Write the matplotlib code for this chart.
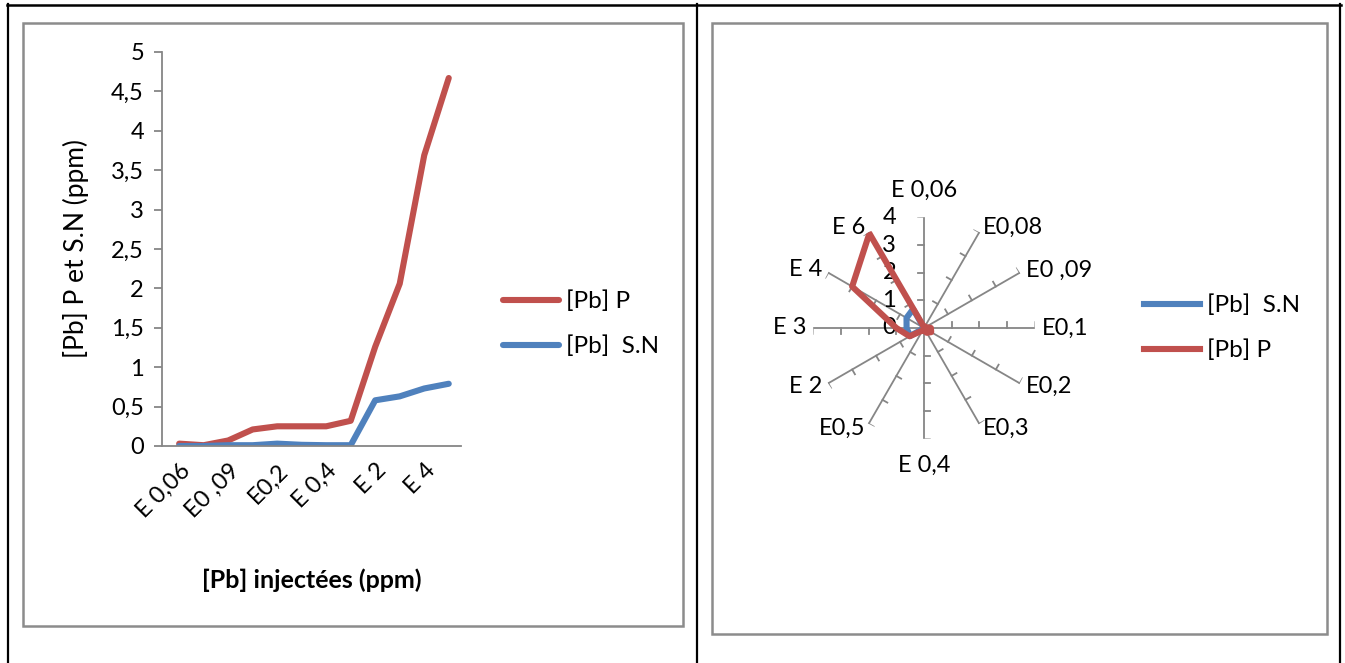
import numpy as np
import matplotlib
matplotlib.use("Agg")
import matplotlib.pyplot as plt
from matplotlib.patches import Rectangle
from matplotlib.lines import Line2D

plt.rcParams['font.family'] = ['Lato', 'DejaVu Sans']

# data
categories = ['E 0,06', 'E0,08', 'E0 ,09', 'E0,1', 'E0,2', 'E0,3',
              'E 0,4', 'E0,5', 'E 2', 'E 3', 'E 4', 'E 6']
pb_p = [0.03, 0.01, 0.07, 0.21, 0.25, 0.25, 0.25, 0.32, 1.26, 2.06, 3.69, 4.67]
pb_sn = [0.0, 0.0, 0.01, 0.01, 0.03, 0.015, 0.01, 0.01, 0.58, 0.63, 0.73, 0.79]
# radar chart series (right panel)
radar_p = [0.03, 0.01, 0.07, 0.25, 0.3, 0.2, 0.1, 0.1, 0.6, 1.0, 3.0, 3.95]
radar_sn = pb_sn
y_ticks = [0, 0.5, 1, 1.5, 2, 2.5, 3, 3.5, 4, 4.5, 5]
r_ticks = [0, 1, 2, 3, 4]

RED = '#C0504D'
BLUE = '#4F81BD'
GREY = '#868686'

W, H = 1345, 663
fig = plt.figure(figsize=(W / 100, H / 100), dpi=100)

def fx(px):
    return px / W

def fy(py):
    return 1 - py / H

# table borders + chart boxes
for x in (8, 697, 1340):
    fig.add_artist(Line2D([fx(x), fx(x)], [fy(4), fy(663)], color='black', lw=1.6))
fig.add_artist(Line2D([fx(7), fx(1341)], [fy(4.5), fy(4.5)], color='black', lw=1.8))
fig.add_artist(Rectangle((fx(23), fy(626)), fx(683) - fx(23), fy(23) - fy(626),
                         fill=False, ec='#8c8c8c', lw=1.8))
fig.add_artist(Rectangle((fx(712), fy(634)), fx(1327) - fx(712), fy(23) - fy(634),
                         fill=False, ec='#8c8c8c', lw=1.8))

FS = 17

# ---- left: line chart
ax = fig.add_axes([fx(162), fy(446), fx(461) - fx(162), fy(52) - fy(446)])
x = np.arange(len(categories))
ax.plot(x, pb_p, color=RED, lw=4.4, solid_capstyle='round', label='[Pb] P')
ax.plot(x, pb_sn, color=BLUE, lw=4.4, solid_capstyle='round', label='[Pb]  S.N')
ax.set_xlim(-0.7, 11.5)
ax.set_ylim(0, 5)
ax.set_yticks(y_ticks)
ax.set_yticklabels([('%g' % v).replace('.', ',') for v in y_ticks])
ax.set_xticks(x[::2])
ax.set_xticklabels(categories[::2], rotation=45, ha='right', va='top',
                   rotation_mode='anchor')
for s in ('top', 'right'):
    ax.spines[s].set_visible(False)
for s in ('left', 'bottom'):
    ax.spines[s].set_color(GREY)
    ax.spines[s].set_linewidth(1.3)
ax.tick_params(axis='y', length=6, width=1.3, color=GREY, labelsize=FS, pad=7)
ax.tick_params(axis='x', length=0, labelsize=FS, pad=10)
ax.set_ylabel('[Pb] P et S.N (ppm)', fontsize=19)
ax.yaxis.set_label_coords(-0.245, 0.5)
ax.set_xlabel('[Pb] injectées (ppm)', fontsize=18, fontweight='bold')
ax.xaxis.set_label_coords(0.5, -0.34)
ax.xaxis.label.set_va('center')
fig.legend(handles=ax.get_lines(), loc='center left',
           bbox_to_anchor=(fx(503), fy(324)), frameon=False, fontsize=17.5,
           handlelength=2.3, handletextpad=0.3, labelspacing=0.95,
           borderpad=0, borderaxespad=0)

# ---- right: radar chart
R = 110.6
pax = fig.add_axes([fx(924 - R), fy(328 + R), fx(2 * R), fy(0) - fy(2 * R)],
                   projection='polar')
pax.set_theta_zero_location('N')
pax.set_theta_direction(-1)
pax.set_ylim(0, 4)
pax.axis('off')
theta = np.arange(len(categories)) * 2 * np.pi / len(categories)
tick_len = 0.2
for th in theta:
    pax.plot([th, th], [0, 4], color=GREY, lw=1.3, zorder=1)
    for r in r_ticks[1:]:
        pax.plot([th, th - np.arctan(tick_len / r)], [r, np.hypot(r, tick_len)],
                 color=GREY, lw=1.3, zorder=1)
th_closed = np.append(theta, theta[0])
l_sn, = pax.plot(th_closed, radar_sn + radar_sn[:1], color=BLUE, lw=4.4,
                 solid_joinstyle='round', label='[Pb]  S.N', zorder=3)
l_p, = pax.plot(th_closed, radar_p + radar_p[:1], color=RED, lw=4.4,
                solid_joinstyle='round', label='[Pb] P', zorder=4)

for r in r_ticks:
    pax.annotate(str(r), xy=(0, r), xytext=(-20, 0), textcoords='offset points',
                 ha='right', va='center', fontsize=FS, annotation_clip=False)

for th, lab in zip(theta, categories):
    s, c = np.sin(th), np.cos(th)
    if abs(s) < 0.1:
        ha = 'center'
        va = 'bottom' if c > 0 else 'top'
        off = (0, 12 * np.sign(c))
    else:
        ha = 'left' if s > 0 else 'right'
        va = 'center'
        off = (5 * s, 4 * c)
    pax.annotate(lab, xy=(th, 4), xytext=off, textcoords='offset points',
                 ha=ha, va=va, fontsize=FS, annotation_clip=False)

fig.legend(handles=[l_sn, l_p], loc='center left',
           bbox_to_anchor=(fx(1144), fy(328)), frameon=False, fontsize=17.5,
           handlelength=2.3, handletextpad=0.3, labelspacing=0.95,
           borderpad=0, borderaxespad=0)

fig.savefig('out.png', dpi=100)
